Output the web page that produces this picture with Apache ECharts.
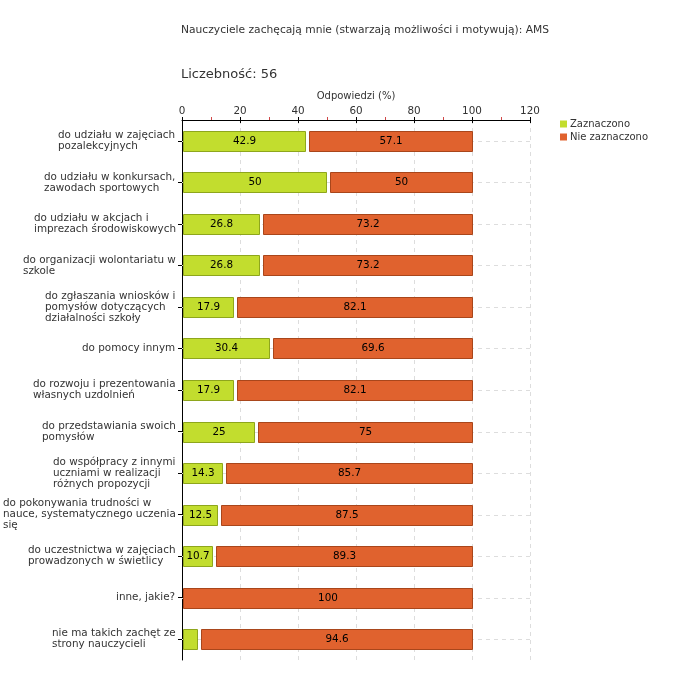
<!DOCTYPE html>
<html><head><meta charset="utf-8">
<script src="https://cdn.jsdelivr.net/npm/echarts@6/dist/echarts.min.js"></script>
<style>html,body{margin:0;padding:0;background:#fff}#c{width:680px;height:680px}</style>
</head><body><div id="c"></div>
<script>
const categories = [
  "do udziału w zajęciach\npozalekcyjnych",
  "do udziału w konkursach,\nzawodach sportowych",
  "do udziału w akcjach i\nimprezach środowiskowych",
  "do organizacji wolontariatu w\nszkole",
  "do zgłaszania wniosków i\npomysłów dotyczących\ndziałalności szkoły",
  "do pomocy innym",
  "do rozwoju i prezentowania\nwłasnych uzdolnień",
  "do przedstawiania swoich\npomysłów",
  "do współpracy z innymi\nuczniami w realizacji\nróżnych propozycji",
  "do pokonywania trudności w\nnauce, systematycznego uczenia\nsię",
  "do uczestnictwa w zajęciach\nprowadzonych w świetlicy",
  "inne, jakie?",
  "nie ma takich zachęt ze\nstrony nauczycieli"
];
const zaznaczono = [42.9, 50, 26.8, 26.8, 17.9, 30.4, 17.9, 25, 14.3, 12.5, 10.7, 0, 5.4];
const nieZaznaczono = [57.1, 50, 73.2, 73.2, 82.1, 69.6, 82.1, 75, 85.7, 87.5, 89.3, 100, 94.6];
const seriesNames = ["Zaznaczono", "Nie zaznaczono"];
const xMin = 0, xMax = 120, xInterval = 20;
const titleText = "Nauczyciele zachęcają mnie (stwarzają możliwości i motywują): AMS";
const countText = "Liczebność: 56";
const axisName = "Odpowiedzi (%)";

const FONT = "DejaVu Sans";
const LBL = 10.4;
const VAL = 10.4;
const GREEN = "#c2dd2e", GREEN_B = "#8ea61c";
const ORANGE = "#e0622e", ORANGE_B = "#a9461b";

// measure label block widths so lines are left aligned inside a right-aligned block
const cv = document.createElement("canvas").getContext("2d");
cv.font = LBL + "px '" + FONT + "'";
const rich = {};
categories.forEach((c, i) => {
  const w = Math.max(...c.split("\n").map(l => cv.measureText(l).width));
  rich["r" + i] = { width: Math.ceil(w) + 1, align: "left", fontFamily: FONT, fontSize: LBL, lineHeight: 11, color: "#333" };
});

const chart = echarts.init(document.getElementById("c"), null, { renderer: "canvas" });
const H = 20;
chart.setOption({
  animation: false,
  textStyle: { fontFamily: FONT },
  title: [
    { text: titleText, left: 181, top: 25, padding: 0, textStyle: { fontSize: 10.7, fontWeight: "normal", color: "#333", fontFamily: FONT } },
    { text: countText, left: 181, top: 68, padding: 0, textStyle: { fontSize: 13, fontWeight: "normal", color: "#333", fontFamily: FONT } }
  ],
  legend: {
    data: seriesNames, orient: "vertical", left: 555, top: 114, itemWidth: 7, itemHeight: 7, itemGap: 3,
    icon: "rect", textStyle: { fontSize: 10, color: "#333", fontFamily: FONT, padding: [0, 0, 0, -2] }
  },
  grid: { left: 181, right: 150, top: 120, bottom: 20, containLabel: false },
  xAxis: [
    {
      type: "value", position: "top", min: xMin, max: xMax, interval: xInterval,
      name: axisName, nameLocation: "middle", nameGap: 14,
      nameTextStyle: { fontSize: 10, color: "#333", fontFamily: FONT },
      axisLine: { show: true, lineStyle: { color: "#000", width: 1 } },
      axisTick: { show: true, length: 3, lineStyle: { color: "#000" } },
      minorTick: { show: true, splitNumber: 2, length: 3, lineStyle: { color: "#d04848" } },
      axisLabel: { fontSize: 10.4, color: "#333", margin: 4, fontFamily: FONT },
      splitLine: { show: true, lineStyle: { color: "#ddd", type: [4, 4] } }
    },
    {
      type: "value", position: "top", min: xMin, max: xMax, interval: xInterval,
      axisLine: { show: false },
      axisTick: { show: true, inside: true, length: 3, lineStyle: { color: "#000" } },
      minorTick: { show: false },
      axisLabel: { show: false }, splitLine: { show: false }
    }
  ],
  yAxis: {
    type: "category", inverse: true, data: categories,
    axisLine: { show: true, lineStyle: { color: "#000" } },
    axisTick: { show: true, alignWithLabel: true, length: 4, lineStyle: { color: "#000" } },
    axisLabel: {
      margin: 5, align: "right",
      formatter: (v, i) => v.split("\n").map(l => "{r" + i + "|" + l + "}").join("\n"),
      rich: rich
    },
    splitLine: { show: false }
  },
  series: [
    {
      type: "custom", name: "_grid", silent: true, z: 1,
      data: categories.map((c, i) => [xMax, i]),
      encode: { x: 0, y: 1 },
      renderItem: (params, api) => {
        const idx = api.value(1);
        const p0 = api.coord([xMin, idx]);
        const p1 = api.coord([xMax, idx]);
        const y = Math.round(p0[1]) + 0.5;
        return { type: "line", shape: { x1: p0[0], y1: y, x2: p1[0], y2: y }, style: { stroke: "#ddd", lineWidth: 1, lineDash: [4, 4] } };
      }
    },
    {
      type: "custom", name: seriesNames[0], z: 3,
      itemStyle: { color: GREEN },
      data: zaznaczono.map((v, i) => [v, i]),
      encode: { x: 0, y: 1 },
      renderItem: (params, api) => {
        const v = api.value(0), idx = api.value(1);
        if (!v) return null;
        const p0 = api.coord([0, idx]);
        const p1 = api.coord([v, idx]);
        const x0 = Math.round(p0[0]) + 1.5;
        const x1 = Math.round(p1[0]) - 0.5;
        const y0 = Math.round(p0[1] - H / 2) + 0.5;
        return {
          type: "rect",
          shape: { x: x0, y: y0, width: x1 - x0, height: H },
          style: { fill: GREEN, stroke: GREEN_B, lineWidth: 1 },
          textContent: v >= 8 ? { style: { text: String(v), fill: "#000", fontSize: VAL, fontFamily: FONT } } : undefined,
          textConfig: { position: "inside" }
        };
      }
    },
    {
      type: "custom", name: seriesNames[1], z: 3,
      itemStyle: { color: ORANGE },
      data: nieZaznaczono.map((v, i) => [zaznaczono[i], zaznaczono[i] + v, i, v]),
      encode: { x: [0, 1], y: 2 },
      renderItem: (params, api) => {
        const s = api.value(0), e = api.value(1), idx = api.value(2), v = api.value(3);
        if (!v) return null;
        const p0 = api.coord([s, idx]);
        const p1 = api.coord([e, idx]);
        const x0 = s > 0 ? Math.round(p0[0]) + 3.5 : Math.round(p0[0]) + 1.5;
        const x1 = Math.round(p1[0]) + 0.5;
        const y0 = Math.round(p0[1] - H / 2) + 0.5;
        return {
          type: "rect",
          shape: { x: x0, y: y0, width: x1 - x0, height: H },
          style: { fill: ORANGE, stroke: ORANGE_B, lineWidth: 1 },
          textContent: { style: { text: String(v), fill: "#000", fontSize: VAL, fontFamily: FONT } },
          textConfig: { position: "inside" }
        };
      }
    }
  ]
});
</script></body></html>
